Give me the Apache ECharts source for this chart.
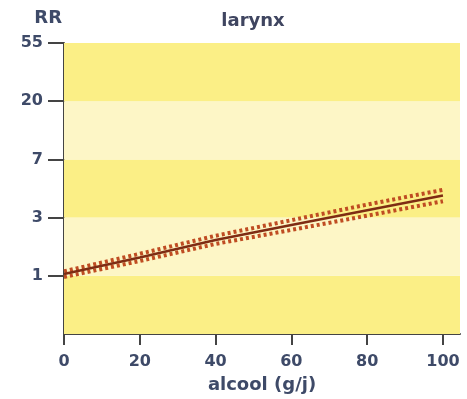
<!DOCTYPE html>
<html>
<head>
<meta charset="utf-8">
<script src="https://cdn.jsdelivr.net/npm/echarts@6/dist/echarts.min.js"></script>
<style>
  html, body { margin: 0; padding: 0; background: #ffffff; }
  #chart { width: 467px; height: 399px; }
</style>
</head>
<body>
<div id="chart"></div>
<script>
// Alcohol intake (g/day) and relative risk of larynx cancer
const alcohol = [0, 20, 40, 60, 80, 100];
const rr      = [1.03, 1.37, 1.85, 2.39, 3.08, 3.97];
const rrUpper = [1.08, 1.46, 1.99, 2.60, 3.40, 4.38];
const rrLower = [0.98, 1.29, 1.73, 2.20, 2.81, 3.60];

// Y axis is drawn on a natural-log scale; tick labels are e^k rounded
const yTickLn     = [0, 1, 2, 3, 4];
const yTickLabels = ['1', '3', '7', '20', '55'];
const xTicks      = [0, 20, 40, 60, 80, 100];

// Background bands between successive ticks (ln units)
const bandEdges = [-1, 0, 1, 2, 3, 4];
const bandColors = ['#fbef86', '#fdf6c6', '#fbef86', '#fdf6c6', '#fbef86'];

const toPairs = (xs, ys) => xs.map((x, i) => [x, Math.log(ys[i])]);

const FONT = 'DejaVu Sans, Verdana, sans-serif';
const labelFont = { fontFamily: FONT, fontWeight: 'bold', fontSize: 16, color: '#3e4a68' };

const chart = echarts.init(document.getElementById('chart'), null, { renderer: 'canvas' });

chart.setOption({
  animation: false,
  title: {
    text: 'larynx',
    left: 248, top: 7, textAlign: 'center',
    textStyle: { fontFamily: FONT, fontWeight: 'bold', fontSize: 18, color: '#3f4560' }
  },
  grid: { left: 64, right: 7, top: 43, bottom: 62 },
  xAxis: {
    type: 'value', min: 0, max: 104.5,
    name: 'alcool (g/j)', nameLocation: 'middle', nameGap: 42,
    nameTextStyle: Object.assign({}, labelFont, { fontSize: 18 }),
    axisLine: { show: true, onZero: false, lineStyle: { color: '#444', width: 2 } },
    axisTick: { show: true, length: 11, customValues: xTicks, lineStyle: { color: '#444', width: 2 } },
    axisLabel: Object.assign({ customValues: xTicks, margin: 20 }, labelFont),
    splitLine: { show: false }
  },
  yAxis: {
    type: 'value', min: -1, max: 4,
    name: 'RR', nameLocation: 'end', nameGap: 16,
    nameTextStyle: Object.assign({}, labelFont, { fontSize: 18, align: 'right', padding: [0, 2, 0, 0] }),
    axisLine: { show: true, onZero: false, lineStyle: { color: '#444', width: 2 } },
    axisTick: { show: true, length: 16, customValues: yTickLn, lineStyle: { color: '#444', width: 2 } },
    axisLabel: Object.assign({
      customValues: yTickLn, margin: 21,
      formatter: v => yTickLabels[yTickLn.indexOf(Math.round(v))] || ''
    }, labelFont),
    splitLine: { show: false }
  },
  series: [
    {
      type: 'line', silent: true, symbol: 'none', data: [],
      markArea: {
        silent: true,
        data: bandColors.map((c, i) => [
          { yAxis: bandEdges[i], itemStyle: { color: c } },
          { yAxis: bandEdges[i + 1] }
        ])
      }
    },
    {
      name: 'upper', type: 'line', symbol: 'none',
      data: toPairs(alcohol, rrUpper),
      lineStyle: { color: '#bf4c22', width: 4, type: [3, 3] }, z: 3
    },
    {
      name: 'lower', type: 'line', symbol: 'none',
      data: toPairs(alcohol, rrLower),
      lineStyle: { color: '#bf4c22', width: 4, type: [3, 3] }, z: 3
    },
    {
      name: 'RR', type: 'line', symbol: 'none',
      data: toPairs(alcohol, rr),
      lineStyle: { color: '#7e2c13', width: 2.5 }, z: 4
    }
  ]
});
</script>
</body>
</html>
